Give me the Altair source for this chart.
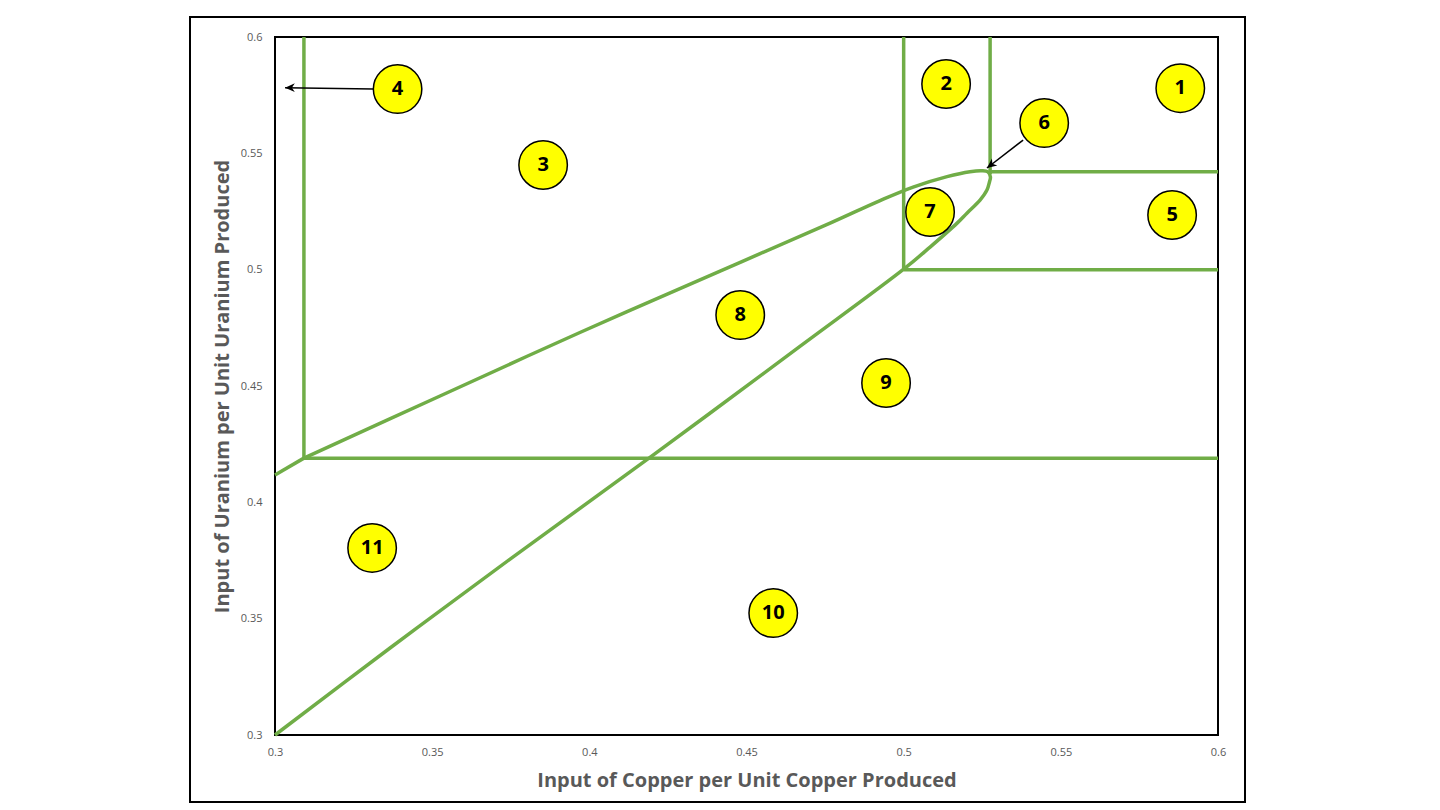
import altair as alt
import pandas as pd

# ---------------- data ----------------
# boundary curve (traced in order: upper branch -> nose -> lower branch)
curve_x = [0.3092, 0.3525, 0.3970, 0.4416, 0.4766, 0.4925, 0.5030, 0.5138,
           0.5211, 0.5249, 0.5268, 0.5276, 0.5273, 0.5265, 0.5243, 0.5202, 0.5170,
           0.5084, 0.5001, 0.4670, 0.4193, 0.3748, 0.3366, 0.3000]
curve_y = [0.4190, 0.4457, 0.4730, 0.4994, 0.5200, 0.5297, 0.5355, 0.5400,
           0.5421, 0.5425, 0.5420, 0.5398, 0.5377, 0.5342, 0.5299, 0.5244, 0.5200,
           0.5097, 0.5003, 0.4670, 0.4193, 0.3756, 0.3374, 0.3000]

# straight boundary segments
seg_x1 = [0.3000, 0.3092, 0.3092, 0.5, 0.5275, 0.5275, 0.5]
seg_y1 = [0.4117, 0.4190, 0.4190, 0.5, 0.5410, 0.5421, 0.5]
seg_x2 = [0.3092, 0.3092, 0.6, 0.5, 0.5275, 0.6, 0.6]
seg_y2 = [0.4190, 0.6, 0.4190, 0.6, 0.6, 0.5421, 0.5]

# region labels
lab_text = ["1", "2", "3", "4", "5", "6", "7", "8", "9", "10", "11"]
lab_x = [0.588, 0.5135, 0.3853, 0.339, 0.5854, 0.5447, 0.5084, 0.448, 0.4944, 0.4585, 0.3309]
lab_y = [0.578, 0.5798, 0.545, 0.5776, 0.5235, 0.563, 0.5248, 0.4805, 0.4513, 0.3524, 0.3804]

# arrows (start -> tip)
arr_x1 = [0.3312, 0.5380]
arr_y1 = [0.5777, 0.5557]
arr_x2 = [0.3032, 0.5265]
arr_y2 = [0.5782, 0.5437]
arr_angle = [270, 232]

ticks = [0.3, 0.35, 0.4, 0.45, 0.5, 0.55, 0.6]

# ---------------- chart ----------------
GREEN = "#70AD47"
FONT = "Open Sans"

curve_df = pd.DataFrame({"x": curve_x, "y": curve_y, "i": list(range(len(curve_x)))})
seg_df = pd.DataFrame({"x": seg_x1, "y": seg_y1, "x2": seg_x2, "y2": seg_y2})
lab_df = pd.DataFrame({"x": lab_x, "y": lab_y, "t": lab_text})
arr_df = pd.DataFrame({"x": arr_x1, "y": arr_y1, "x2": arr_x2, "y2": arr_y2, "a": arr_angle})

xscale = alt.Scale(domain=[0.3, 0.6], nice=False, zero=False)
yscale = alt.Scale(domain=[0.3, 0.6], nice=False, zero=False)

xaxis = alt.Axis(values=ticks, format=".2~f", grid=False, ticks=False, domain=False,
                 labelFlush=False,
                 labelFontSize=11, labelColor="#595959", labelFont=FONT, labelPadding=11,
                 title="Input of Copper per Unit Copper Produced", titleFont=FONT,
                 titleFontSize=20, titleFontWeight="bold", titleColor="#595959",
                 titlePadding=13)
yaxis = alt.Axis(values=ticks, format=".2~f", grid=False, ticks=False, domain=False,
                 labelFlush=False,
                 labelFontSize=11, labelColor="#595959", labelFont=FONT, labelPadding=13,
                 title="Input of Uranium per Unit Uranium Produced", titleFont=FONT,
                 titleFontSize=20, titleFontWeight="bold", titleColor="#595959",
                 titlePadding=8)

X = alt.X("x:Q", scale=xscale, axis=xaxis)
Y = alt.Y("y:Q", scale=yscale, axis=yaxis)

curve = alt.Chart(curve_df).mark_line(color=GREEN, strokeWidth=3.5, interpolate="catmull-rom").encode(
    x=X, y=Y, order="i:Q")

segs = alt.Chart(seg_df).mark_rule(color=GREEN, strokeWidth=3.5).encode(
    x=X, y=Y, x2="x2:Q", y2="y2:Q")

arrows = alt.Chart(arr_df).mark_rule(color="black", strokeWidth=1.5).encode(
    x=X, y=Y, x2="x2:Q", y2="y2:Q")

heads = alt.Chart(arr_df).mark_point(
    shape="M0,0 L-0.45,1 L0,0.7 L0.45,1 Z", filled=True, color="black", opacity=1, size=380
).encode(x=alt.X("x2:Q", scale=xscale), y=alt.Y("y2:Q", scale=yscale), angle=alt.Angle("a:Q", scale=None))

circles = alt.Chart(lab_df).mark_point(
    shape="circle", filled=True, fill="#FFFF00", stroke="black", strokeWidth=1.5, size=2350, opacity=1
).encode(x=X, y=Y)

texts = alt.Chart(lab_df).mark_text(
    font=FONT, fontSize=20, fontWeight="bold", color="black", baseline="middle", align="center"
).encode(x=X, y=Y, text="t:N")

outer = alt.Chart(pd.DataFrame({"k": [0]})).mark_rect(
    fill=None, stroke="black", strokeWidth=2, clip=False
).encode(x=alt.value(-85), x2=alt.value(970), y=alt.value(-20), y2=alt.value(765))

chart = alt.layer(outer, segs, curve, arrows, heads, circles, texts).properties(
    width=943, height=698,
    autosize=alt.AutoSizeParams(type="none"),
    padding={"left": 267, "top": 29, "right": 40, "bottom": 72},
).configure(
    background="white",
    view=alt.ViewConfig(stroke="black", strokeWidth=2),
)

chart.save("out.html", embed_options={"renderer": "svg", "actions": False})
